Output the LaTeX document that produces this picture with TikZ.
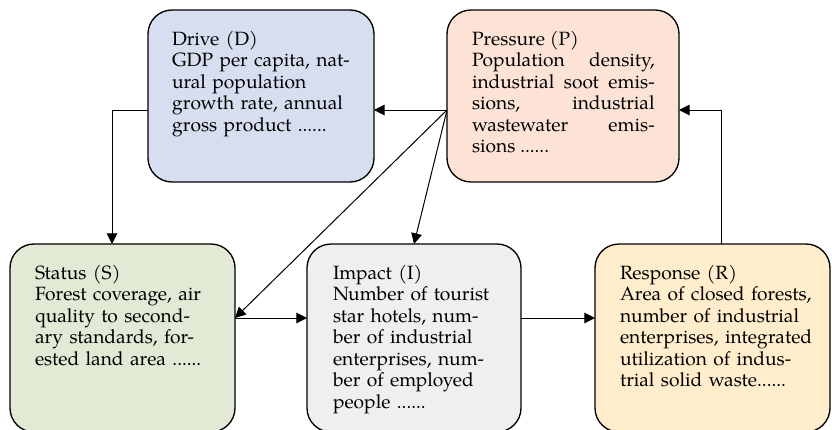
\documentclass[tikz,border=0pt]{standalone}
\usepackage{fontspec}
\setmainfont{TeX Gyre Pagella}
\usetikzlibrary{arrows.meta,positioning,calc}

\definecolor{driveblue}{RGB}{215,222,240}
\definecolor{pressurepeach}{RGB}{252,227,213}
\definecolor{statusgreen}{RGB}{226,234,213}
\definecolor{impactgray}{RGB}{239,239,239}
\definecolor{responseyellow}{RGB}{255,237,204}

\begin{document}
\begin{tikzpicture}[x=0.75pt,y=-0.75pt,
    box/.style={draw, line width=1pt, rounded corners=18pt, inner sep=0pt, outer sep=0pt},
    txt/.style={anchor=north west, inner sep=0pt, outer sep=0pt, align=left,
        font=\fontsize{14.4}{16.1}\selectfont},
    arr/.style={-{Triangle[length=8pt,width=8pt]}, line width=0.75pt}]
    \useasboundingbox (0,0) rectangle (832,429);

    % the five boxes
    \node[box, fill=driveblue, minimum width=169.5pt, minimum height=129pt] (drive) at (261,96) {};
    \node[box, fill=pressurepeach, minimum width=174pt, minimum height=129pt] (pressure) at (563,96) {};
    \node[box, fill=statusgreen, minimum width=168.75pt, minimum height=141pt] (status) at (122.5,338) {};
    \node[box, fill=impactgray, minimum width=160.5pt, minimum height=141pt] (impact) at (414,338) {};
    \node[box, fill=responseyellow, minimum width=176.25pt, minimum height=141pt] (response) at (712.5,338) {};

    % texts
    \node[txt, text width=150pt] (drive_txt) at ($(drive.north west)+(24,21)$)
        {Drive (D)\\GDP per capita, nat-\\ural population\\growth rate, annual\\gross product ......};
    \node[txt, text width=137pt, align=justify] (pressure_txt) at ($(pressure.north west)+(25,21)$)
        {Pressure (P)\\Population density,\linebreak industrial soot emis-\linebreak sions, industrial\linebreak wastewater emis-\linebreak sions ......};
    \node[txt, text width=150pt] (status_txt) at ($(status.north west)+(25,21)$)
        {Status (S)\\Forest coverage, air\\quality to second-\\ary standards, for-\\ested land area ......};
    \node[txt, text width=150pt] (impact_txt) at ($(impact.north west)+(26,21)$)
        {Impact (I)\\Number of tourist\\star hotels, num-\\ber of industrial\\enterprises, num-\\ber of employed\\people ......};
    \node[txt, text width=160pt] (response_txt) at ($(response.north west)+(25,21)$)
        {Response (R)\\Area of closed forests,\\number of industrial\\enterprises, integrated\\utilization of indus-\\trial solid waste......};

    % connector ends
    \coordinate (d_out) at ($(drive.north west)+(0,100)$);
    \coordinate (s_in) at ($(status.north west)+(102,0)$);
    \coordinate (p_out) at ($(pressure.north west)+(0,100)$);
    \coordinate (p_in) at ($(pressure.north east)+(0,100)$);
    \coordinate (s_out) at ($(status.north east)+(0,74)$);
    \coordinate (i_out) at ($(impact.north east)+(0,74)$);
    \coordinate (r_out) at ($(response.north west)+(126,0)$);

    \draw[arr] (d_out) -| (s_in);
    \draw[arr] (p_out) -- (p_out -| drive.east);
    \draw[arr] (p_out) -- (s_out);
    \draw[arr] (p_out) -- (impact.north);
    \draw[arr] (s_out) -- (s_out -| impact.west);
    \draw[arr] (i_out) -- (i_out -| response.west);
    \draw[arr] (r_out) |- (p_in);

\end{tikzpicture}
\end{document}
